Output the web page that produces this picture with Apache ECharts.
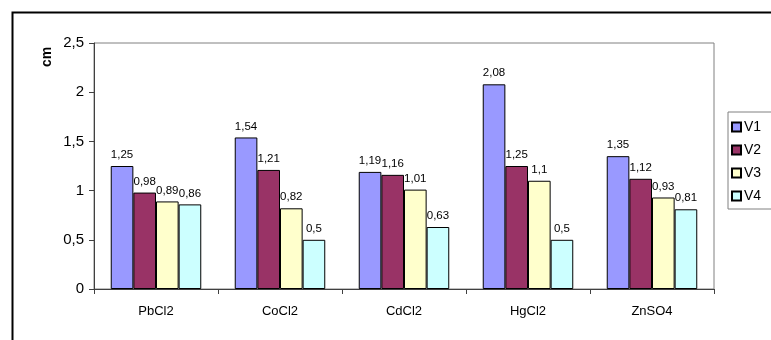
<!DOCTYPE html>
<html>
<head>
<meta charset="utf-8">
<script src="https://cdn.jsdelivr.net/npm/echarts@6/dist/echarts.min.js"></script>
<style>
html,body{margin:0;padding:0;background:#fff;}
#chart{width:771px;height:340px;}
</style>
</head>
<body>
<div id="chart"></div>
<script>
var categories = ['PbCl2', 'CoCl2', 'CdCl2', 'HgCl2', 'ZnSO4'];
var seriesNames = ['V1', 'V2', 'V3', 'V4'];
var v1 = [1.25, 1.54, 1.19, 2.08, 1.35];
var v2 = [0.98, 1.21, 1.16, 1.25, 1.12];
var v3 = [0.89, 0.82, 1.01, 1.1, 0.93];
var v4 = [0.86, 0.5, 0.63, 0.5, 0.81];
var colors = ['#9999FF', '#993366', '#FFFFCC', '#CCFFFF'];
var yTicks = [0, 0.5, 1, 1.5, 2, 2.5];

var FONT = '"Liberation Sans", Arial, sans-serif';
function comma(v) { return String(v).replace('.', ','); }

var seriesData = [v1, v2, v3, v4];
var series = seriesData.map(function (d, i) {
  return {
    name: seriesNames[i],
    type: 'bar',
    data: d,
    barGap: '0%',
    barCategoryGap: '27%',
    itemStyle: { color: colors[i], borderColor: '#000', borderWidth: 1 },
    label: {
      show: true, position: 'top', distance: 5,
      fontFamily: FONT, fontSize: 11.5, color: '#000',
      formatter: function (p) { return comma(p.value); }
    }
  };
});

var chart = echarts.init(document.getElementById('chart'), null, { renderer: 'canvas' });
chart.setOption({
  animation: false,
  backgroundColor: '#fff',
  textStyle: { fontFamily: FONT },
  grid: { left: 94, right: 57, top: 43, bottom: 51, show: true, borderColor: '#808080', borderWidth: 1, backgroundColor: 'transparent' },
  xAxis: {
    type: 'category',
    data: categories,
    axisLine: { lineStyle: { color: '#404040', width: 1 } },
    axisTick: { show: true, length: 5, lineStyle: { color: '#404040' } },
    axisLabel: { fontFamily: FONT, fontSize: 13, color: '#000', margin: 16 }
  },
  yAxis: {
    type: 'value',
    min: yTicks[0],
    max: yTicks[yTicks.length - 1],
    interval: 0.5,
    axisLine: { show: true, lineStyle: { color: '#404040', width: 1 } },
    axisTick: { show: true, length: 5, lineStyle: { color: '#404040' } },
    splitLine: { show: false },
    axisLabel: { fontFamily: FONT, fontSize: 15, color: '#000', margin: 10, formatter: function (v) { return comma(v); } }
  },
  legend: {
    orient: 'vertical',
    left: 728,
    top: 112,
    padding: [8, 20, 6, 3],
    itemGap: 9,
    itemWidth: 9,
    itemHeight: 9,
    icon: 'rect',
    borderColor: '#808080',
    borderWidth: 1,
    backgroundColor: '#fff',
    data: seriesNames,
    textStyle: { fontFamily: FONT, fontSize: 14, color: '#000', padding: [0, 0, 0, -2] }
  },
  graphic: [
    { type: 'rect', left: 10, top: 10, shape: { x: 0, y: 0, width: 800, height: 400 }, style: { fill: 'none', stroke: '#000', lineWidth: 2 }, silent: true, z: 100 },
    { type: 'text', x: 47, y: 57, rotation: Math.PI / 2, style: { text: 'cm', fontFamily: FONT, fontSize: 14, fontWeight: 'bold', fill: '#000', textAlign: 'center', textVerticalAlign: 'middle' } }
  ],
  series: series
});
</script>
</body>
</html>
